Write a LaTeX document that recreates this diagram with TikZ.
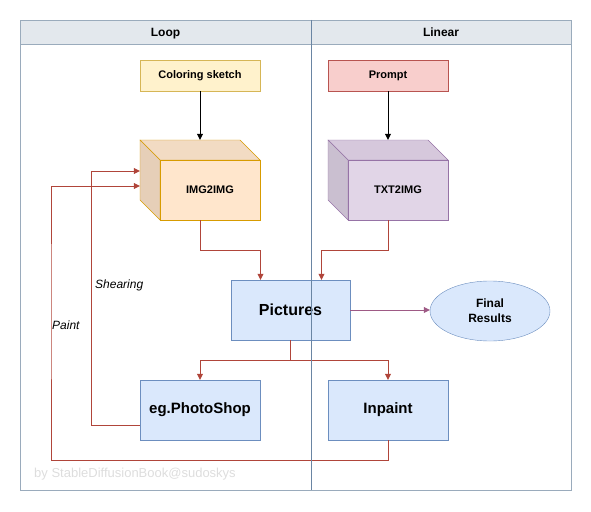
\documentclass[tikz,border=0pt]{standalone}
\usepackage{fontspec}
\setmainfont{Liberation Sans}
\usetikzlibrary{arrows.meta,shapes.geometric,calc}
\definecolor{framec}{HTML}{9AABBC}
\definecolor{headfill}{HTML}{E3E8ED}
\definecolor{divc}{HTML}{6A85A3}
\definecolor{redline}{HTML}{B0453A}
\definecolor{purpline}{HTML}{9E5A85}
\definecolor{bluefill}{HTML}{DAE8FC}
\definecolor{bluedraw}{HTML}{6C8EBF}
\definecolor{yelfill}{HTML}{FFF2CC}
\definecolor{yeldraw}{HTML}{D6B656}
\definecolor{pinkfill}{HTML}{F8CECC}
\definecolor{pinkdraw}{HTML}{B85450}
\definecolor{orfill}{HTML}{FFE6CC}
\definecolor{ortop}{HTML}{F2DBC3}
\definecolor{orside}{HTML}{E6CFB8}
\definecolor{ordraw}{HTML}{D79B00}
\definecolor{pufill}{HTML}{E1D5E7}
\definecolor{putop}{HTML}{D6C8DC}
\definecolor{puside}{HTML}{CABFD0}
\definecolor{pudraw}{HTML}{9673A6}
\definecolor{wmark}{HTML}{DDDDDD}
\tikzset{
  smallbox/.style={draw, minimum width=120pt, minimum height=31pt, inner sep=0pt, font=\bfseries\fontsize{11}{13}\selectfont},
  bigbox/.style={draw=bluedraw, fill=bluefill, minimum width=120pt, minimum height=60pt, inner sep=0pt, font=\bfseries\fontsize{15}{18}\selectfont},
  redarrow/.style={draw=redline, -{Triangle[length=6pt,width=6pt]}},
  blackarrow/.style={draw=black, -{Triangle[length=6pt,width=6pt]}},
  lbl/.style={font=\itshape\fontsize{12}{14}\selectfont, inner sep=0pt},
  headlbl/.style={font=\bfseries\fontsize{12}{14}\selectfont, anchor=base, inner sep=0pt},
}
\begin{document}
\begin{tikzpicture}[x=1pt,y=-1pt]
\useasboundingbox (0,0) rectangle (591,511);
% frame
\fill[headfill] (20,20) rectangle (571,44);
\draw[framec] (20,20) rectangle (571,490);
\draw[framec] (20,44) -- (571,44);
\node[headlbl] (loop) at (165.5,36.5) {Loop};
\node[headlbl] (linear) at (441,36.5) {Linear};
% top boxes
\node[smallbox, draw=yeldraw, fill=yelfill] (sketch) at (200,75.5) {Coloring sketch};
\node[smallbox, draw=pinkdraw, fill=pinkfill] (prompt) at (388,75.5) {Prompt};
% cubes
\node[minimum width=120pt, minimum height=80pt, inner sep=0pt] (img) at (200,180) {};
\filldraw[fill=ortop, draw=ordraw] (140,140) -- (240,140) -- (260,160) -- (160,160) -- cycle;
\filldraw[fill=orside, draw=ordraw] (140,140) -- (160,160) -- (160,220) -- (140,200) -- cycle;
\filldraw[fill=orfill, draw=ordraw] (160,160) rectangle (260,220);
\node[font=\bfseries\fontsize{11}{13}\selectfont] (imgt) at (210,190) {IMG2IMG};
\node[minimum width=120pt, minimum height=80pt, inner sep=0pt] (txt) at (388,180) {};
\filldraw[fill=putop, draw=pudraw] (328,140) -- (428,140) -- (448,160) -- (348,160) -- cycle;
\filldraw[fill=puside, draw=pudraw] (328,140) -- (348,160) -- (348,220) -- (328,200) -- cycle;
\filldraw[fill=pufill, draw=pudraw] (348,160) rectangle (448,220);
\node[font=\bfseries\fontsize{11}{13}\selectfont] (txtt) at (398,190) {TXT2IMG};
% middle
\node[bigbox, font=\bfseries\fontsize{16}{19}\selectfont, minimum width=119pt] (pic) at (290.5,310) {Pictures};
\node[ellipse, draw=bluedraw, fill=bluefill, minimum width=120pt, minimum height=60pt, inner sep=0pt, align=center, font=\bfseries\fontsize{12}{15}\selectfont] (final) at (490,311) {Final\\Results};
\node[bigbox] (shop) at (200,410) {eg.PhotoShop};
\node[bigbox] (inp) at (388,410) {Inpaint};
% connectors
\draw[blackarrow] (sketch.south) -- (img.north);
\draw[blackarrow] (prompt.south) -- (txt.north);
\draw[redarrow] (img.south) -- ++(0,30) -| ([xshift=-30pt]pic.north);
\draw[redarrow] (txt.south) -- ++(0,30) -| ([xshift=31pt]pic.north);
\draw[purpline, -{Triangle[length=6pt,width=6pt]}] (pic.east) -- (pic.east -| final.west);
\draw[redarrow] (pic.south) -- ++(0,20) -| (shop.north);
\draw[redarrow] (pic.south) -- ++(0,20) -| (inp.north);
\coordinate (sh) at ([yshift=-15pt]shop.west);
\draw[redarrow] (sh) -- ++(-49,0) |- ([yshift=9pt]img.west);
\draw[redarrow] (inp.south) -- ++(0,20) -| (51,300) |- ([yshift=-6pt]img.west);
\node[lbl, anchor=west] (shear) at (95,285) {Shearing};
\node[lbl, anchor=west] (paint) at (52,325) {Paint};
% divider on top
\draw[divc] (311,20) -- (311,490);
\node[anchor=west, text=wmark, font=\fontsize{13}{15}\selectfont, inner sep=0pt] (wm) at (34,474) {by StableDiffusionBook@sudoskys};
\end{tikzpicture}
\end{document}
